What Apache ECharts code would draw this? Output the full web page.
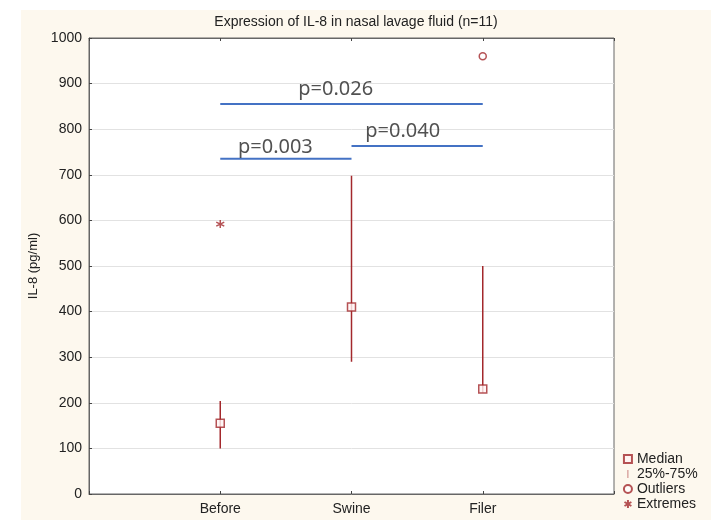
<!DOCTYPE html>
<html>
<head>
<meta charset="utf-8">
<script src="https://cdn.jsdelivr.net/npm/echarts@6/dist/echarts.min.js"></script>
<style>
html, body { margin: 0; padding: 0; background: #fff; }
#chart { width: 711px; height: 520px; }
</style>
</head>
<body>
<div id="chart"></div>
<script>
// groups sit at x = 1, 2, 3 on a 0..4 axis
var groups = ['Before', 'Swine', 'Filer'];
var medians = [155, 410, 230];
var q25 = [100, 290, 222];
var q75 = [204, 698, 500];
var outliers = [[3, 960]];
var extremes = [[1, 592]];

// significance brackets: [fromGroup, toGroup, level]
var brackets = [[1, 3, 855], [1, 2, 735], [2, 3, 763]];
var pTexts = ['p=0.026', 'p=0.003', 'p=0.040'];
var pPlaces = [[1.88, 888], [1.42, 761], [2.39, 796]];

var red = '#a3282c';
var blue = '#4472c4';
var asterisk = 'path://M5,0L5,10M0.7,2.5L9.3,7.5M9.3,2.5L0.7,7.5';

var chart = echarts.init(document.getElementById('chart'));

var series = [
	{
		name: '25%-75%',
		type: 'custom',
		data: groups.map(function (g, i) { return [i + 1, q25[i], q75[i]]; }),
		encode: { x: 0, y: [1, 2] },
		itemStyle: { color: red },
		renderItem: function (params, api) {
			var lo = api.coord([api.value(0), api.value(1)]);
			var hi = api.coord([api.value(0), api.value(2)]);
			return {
				type: 'line',
				shape: { x1: lo[0], y1: lo[1], x2: hi[0], y2: hi[1] },
				style: { stroke: red, lineWidth: 1.5 }
			};
		},
		z: 3
	},
	{
		name: 'Median',
		type: 'scatter',
		symbol: 'rect',
		symbolSize: 8,
		data: medians.map(function (v, i) { return [i + 1, v]; }),
		itemStyle: { color: '#fff4f4', borderColor: red, borderWidth: 1.5 },
		z: 4
	},
	{
		name: 'Outliers',
		type: 'scatter',
		symbol: 'circle',
		symbolSize: 7,
		data: outliers,
		itemStyle: { color: '#fff', borderColor: red, borderWidth: 1.5 },
		z: 4
	},
	{
		name: 'Extremes',
		type: 'scatter',
		symbol: asterisk,
		symbolSize: 8,
		data: extremes,
		itemStyle: { color: 'none', borderColor: red, borderWidth: 1.5 },
		z: 4
	}
];

brackets.forEach(function (b) {
	series.push({
		type: 'line',
		data: [[b[0], b[2]], [b[1], b[2]]],
		symbol: 'none',
		lineStyle: { color: blue, width: 2 },
		silent: true,
		z: 5
	});
});

series.push({
	type: 'scatter',
	symbolSize: 0,
	data: pPlaces.map(function (p, i) { return [p[0], p[1], pTexts[i]]; }),
	label: {
		show: true,
		position: 'inside',
		formatter: function (p) { return p.value[2]; },
		fontSize: 20,
		fontFamily: 'Noto Sans',
		color: '#262626'
	},
	silent: true,
	z: 6
});

var font = 'Liberation Sans';

chart.setOption({
	backgroundColor: '#fff',
	animation: false,
	graphic: [{
		type: 'rect',
		shape: { x: 21, y: 10, width: 690, height: 510 },
		style: { fill: '#fdf8ee' },
		z: -10
	}],
	title: {
		text: 'Expression of IL-8 in nasal lavage fluid (n=11)',
		left: 351,
		textAlign: 'center',
		top: 10,
		textStyle: { fontSize: 14, fontWeight: 'normal', color: '#222', fontFamily: font }
	},
	legend: {
		orient: 'vertical',
		left: 617,
		top: 447,
		itemWidth: 8,
		itemHeight: 8,
		itemGap: 1,
		textStyle: { fontSize: 14, color: '#222', fontFamily: font, padding: [0, 0, 0, 0] },
		data: [
			{ name: 'Median', icon: 'rect' },
			{ name: '25%-75%', icon: 'path://M0,0L1,0L1,14L0,14Z', itemStyle: { color: red } },
			{ name: 'Outliers', icon: 'circle' },
			{ name: 'Extremes', icon: asterisk }
		]
	},
	grid: {
		left: 89, right: 97, top: 38, bottom: 26,
		show: true,
		backgroundColor: '#fff',
		borderColor: '#666',
		borderWidth: 1
	},
	xAxis: [
		{
			type: 'value', min: 0, max: 4, interval: 1,
			axisLine: { lineStyle: { color: '#666' } },
			axisTick: { inside: true, length: 3, lineStyle: { color: '#444' } },
			axisLabel: {
				formatter: function (v) { return groups[v - 1] || ''; },
				fontSize: 14, color: '#222', fontFamily: font, margin: 8
			},
			splitLine: { show: false }
		},
		{
			type: 'value', min: 0, max: 4, interval: 1, position: 'top',
			axisLine: { lineStyle: { color: '#666' } },
			axisTick: { inside: true, length: 3, lineStyle: { color: '#444' } },
			axisLabel: { show: false },
			splitLine: { show: false }
		}
	],
	yAxis: {
		type: 'value', min: 0, max: 1000, interval: 100,
		name: 'IL-8 (pg/ml)',
		nameLocation: 'middle',
		nameGap: 49,
		nameTextStyle: { fontSize: 13, color: '#222', fontFamily: font },
		axisLine: { show: true, lineStyle: { color: '#666' } },
		axisTick: { show: true, inside: true, length: 3, lineStyle: { color: '#444' } },
		axisLabel: {
			formatter: function (v) { return String(v); },
			fontSize: 14, color: '#222', fontFamily: font, margin: 7
		},
		splitLine: { lineStyle: { color: '#e2e2e2' } }
	},
	series: series
});
</script>
</body>
</html>
